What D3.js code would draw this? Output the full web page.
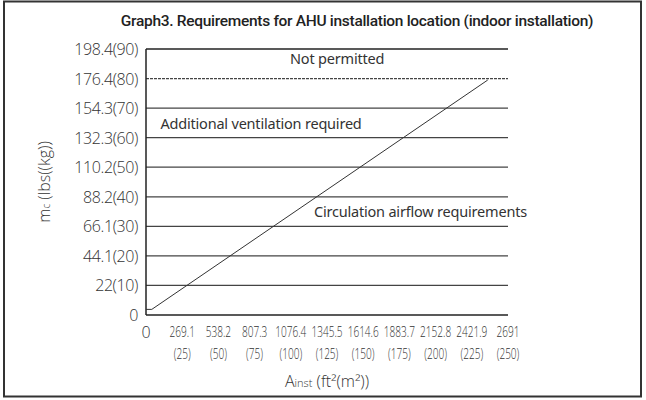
<!DOCTYPE html>
<html>
<head>
<meta charset="utf-8">
<script src="https://cdn.jsdelivr.net/npm/d3@7"></script>
<style>
  body { margin: 0; background: #fff; }
  text { fill: #333; }
</style>
</head>
<body>
<script>
'use strict';

var yTicksKg = [0, 10, 20, 30, 40, 50, 60, 70, 80, 90];
var yTickLbs = ["0", "22", "44.1", "66.1", "88.2", "110.2", "132.3", "154.3", "176.4", "198.4"];
var xTicksM2 = [25, 50, 75, 100, 125, 150, 175, 200, 225, 250];
var xTickFt2 = ["269.1", "538.2", "807.3", "1076.4", "1345.5", "1614.6", "1883.7", "2152.8", "2421.9", "2691"];
var limitKg = 80;
// charge limit curve, [area m², charge kg]
var chargeLine = [[0, 1.9], [4, 1.9], [236, 79.5]];
var zoneLabels = [
  { text: "Not permitted", x: 132, y: 85, anchor: "middle" },
  { text: "Additional ventilation required", x: 10, y: 63, anchor: "start" },
  { text: "Circulation airflow requirements", x: 116, y: 33, anchor: "start" }
];

var width = 646, height = 400;
var svg = d3.select("body").append("svg")
  .attr("width", width)
  .attr("height", height);

svg.append("rect")
  .attr("x", 4).attr("y", 1.5)
  .attr("width", 637).attr("height", 395)
  .attr("fill", "none")
  .attr("stroke", "#333")
  .attr("stroke-width", 2);

svg.append("text")
  .attr("x", 357).attr("y", 26)
  .attr("text-anchor", "middle")
  .attr("font-family", "Roboto")
  .attr("font-weight", 500)
  .attr("font-size", "15.5px")
  .attr("letter-spacing", "-0.3px")
  .style("fill", "#222")
  .text("Graph3. Requirements for AHU installation location (indoor installation)");

var x = d3.scaleLinear().domain([0, 250]).range([146, 508]);
var y = d3.scaleLinear().domain([0, 90]).range([315, 49]);

// horizontal grid lines
svg.append("g").selectAll("line")
  .data(yTicksKg.filter(function(d){ return d > 0; }))
  .enter().append("line")
  .attr("x1", x(0)).attr("x2", x(250))
  .attr("y1", function(d){ return y(d); })
  .attr("y2", function(d){ return y(d); })
  .attr("stroke", function(d){ return d === 90 ? "#222" : "#444"; })
  .attr("stroke-width", function(d){ return d === 90 ? 1.5 : 1.2; })
  .attr("stroke-dasharray", function(d){ return d === limitKg ? "3,1" : null; });

// axes
svg.append("line")
  .attr("x1", x(0)).attr("x2", x(0))
  .attr("y1", y(0)).attr("y2", y(90))
  .attr("stroke", "#222").attr("stroke-width", 1.5);
svg.append("line")
  .attr("x1", x(0)).attr("x2", x(250))
  .attr("y1", y(0)).attr("y2", y(0))
  .attr("stroke", "#222").attr("stroke-width", 1.5);

// y tick labels
svg.append("g").selectAll("text")
  .data(yTicksKg)
  .enter().append("text")
  .attr("x", 138)
  .attr("y", function(d){ return y(d) + 6; })
  .attr("text-anchor", "end")
  .attr("font-family", "Open Sans")
  .attr("font-weight", 300)
  .attr("font-size", "16px")
  .attr("letter-spacing", "-0.4px")
  .text(function(d, i){ return i === 0 ? "0" : yTickLbs[i] + "(" + d + ")"; });

// x tick labels
svg.append("text")
  .attr("x", x(0)).attr("y", 338)
  .attr("text-anchor", "middle")
  .attr("font-family", "Open Sans")
  .attr("font-weight", 300)
  .attr("font-size", "16px")
  .text("0");

var xl = svg.append("g").selectAll("g")
  .data(xTicksM2)
  .enter().append("g")
  .attr("transform", function(d){ return "translate(" + x(d) + ",0) scale(0.72,1)"; });
xl.append("text")
  .attr("y", 337)
  .attr("text-anchor", "middle")
  .attr("font-family", "Open Sans")
  .attr("font-weight", 300)
  .attr("font-size", "14px")
  .text(function(d, i){ return xTickFt2[i]; });
xl.append("text")
  .attr("y", 359)
  .attr("text-anchor", "middle")
  .attr("font-family", "Open Sans")
  .attr("font-weight", 300)
  .attr("font-size", "14px")
  .text(function(d){ return "(" + d + ")"; });

// axis titles
var xt = svg.append("text")
  .attr("x", 327).attr("y", 387)
  .attr("text-anchor", "middle")
  .attr("font-family", "Open Sans")
  .attr("font-weight", 300)
  .attr("font-size", "16px");
xt.append("tspan").text("A");
xt.append("tspan").attr("font-size", "11px").text("inst");
xt.append("tspan").text(" (ft\u00b2(m\u00b2))");

var yt = svg.append("text")
  .attr("transform", "translate(50,182) rotate(-90)")
  .attr("text-anchor", "middle")
  .attr("font-family", "Open Sans")
  .attr("font-weight", 300)
  .attr("font-size", "16px");
yt.append("tspan").text("m");
yt.append("tspan").attr("font-size", "10px").text("c");
yt.append("tspan").text(" (lbs((kg))");

// charge limit line
svg.append("path")
  .datum(chargeLine)
  .attr("d", d3.line()
    .x(function(d){ return x(d[0]); })
    .y(function(d){ return y(d[1]); }))
  .attr("fill", "none")
  .attr("stroke", "#333")
  .attr("stroke-width", 1);

// zone labels
svg.append("g").selectAll("text")
  .data(zoneLabels)
  .enter().append("text")
  .attr("x", function(d){ return x(d.x); })
  .attr("y", function(d){ return y(d.y); })
  .attr("text-anchor", function(d){ return d.anchor; })
  .attr("font-family", "Noto Sans")
  .attr("font-size", "14.5px")
  .attr("letter-spacing", "-0.2px")
  .text(function(d){ return d.text; });
</script>
</body>
</html>
